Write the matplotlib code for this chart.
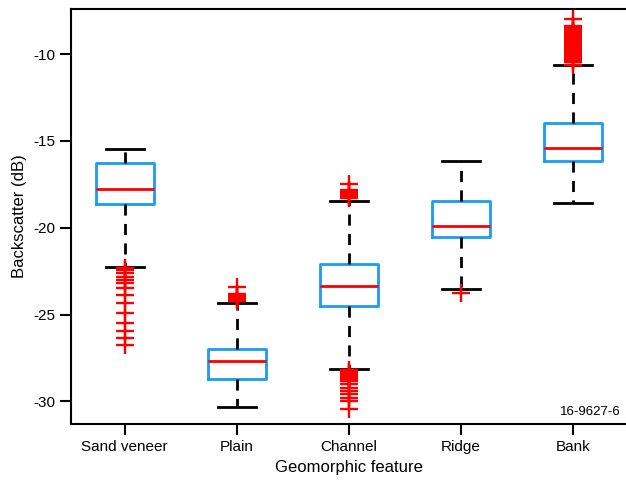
import matplotlib.pyplot as plt

plt.rcParams['font.family'] = ['Liberation Sans', 'DejaVu Sans']

features = ["Sand veneer", "Plain", "Channel", "Ridge", "Bank"]

# five-number summaries (dB)
whislo = [-22.28, -30.33, -28.12, -23.50, -18.57]
q1 = [-18.65, -28.69, -24.52, -20.53, -16.15]
med = [-17.78, -27.68, -23.37, -19.90, -15.40]
q3 = [-16.28, -26.96, -22.10, -18.45, -13.96]
whishi = [-15.48, -24.31, -18.45, -16.15, -10.63]

# outliers
fliers_sand = [-22.3, -22.45, -22.62, -22.84, -23.03, -23.2, -23.49, -23.89,
               -24.35, -24.93, -25.5, -25.97, -26.37, -26.77]
fliers_plain = [-23.4, -23.8, -23.9, -24.0, -24.1, -24.2]
fliers_channel = [-17.45, -17.8, -17.9, -18.0, -18.1, -18.2, -18.3,
                  -28.2, -28.3, -28.4, -28.5, -28.6, -28.7, -28.8,
                  -29.0, -29.2, -29.4, -29.6, -29.8, -30.0, -30.45]
fliers_ridge = [-23.75]
fliers_bank = [-7.95, -8.35, -8.45, -8.55, -8.65, -8.75, -8.85, -8.95, -9.05,
               -9.15, -9.25, -9.35, -9.45, -9.55, -9.65, -9.75, -9.85, -9.95,
               -10.05, -10.15, -10.25, -10.35, -10.45, -10.6]
fliers = [fliers_sand, fliers_plain, fliers_channel, fliers_ridge, fliers_bank]

stats = []
for i, name in enumerate(features):
    stats.append(dict(label=name, whislo=whislo[i], q1=q1[i], med=med[i],
                      q3=q3[i], whishi=whishi[i], fliers=fliers[i]))

fig = plt.figure(figsize=(6.26, 4.9), dpi=100)
ax = fig.add_axes([0.1134, 0.1347, 0.8866, 0.8469])

ax.bxp(stats, positions=range(1, 6), widths=0.52, capwidths=0.34,
       boxprops=dict(color='#1a9cf0', linewidth=2),
       medianprops=dict(color='red', linewidth=2),
       whiskerprops=dict(color='black', linewidth=2, linestyle=(0, (4, 3))),
       capprops=dict(color='black', linewidth=2),
       flierprops=dict(marker='+', markeredgecolor='red', markersize=13,
                       markeredgewidth=1.7, linestyle='none'))

ax.set_xlim(0.52, 5.47)
ax.set_ylim(-31.3, -7.4)
ax.set_yticks([-30, -25, -20, -15, -10])
ax.set_yticklabels(['-30', '-25', '-20', '-15', '-10'])

for s in ['left', 'bottom', 'top']:
    ax.spines[s].set_linewidth(1.5)
ax.spines['right'].set_visible(False)
ax.tick_params(direction='out', length=8, width=1.5, labelsize=11)

ax.set_xlabel("Geomorphic feature", fontsize=12)
ax.set_ylabel("Backscatter (dB)", fontsize=12)
ax.text(0.99, 0.015, "16-9627-6", transform=ax.transAxes,
        ha='right', va='bottom', fontsize=9.5)

fig.savefig("out.png", dpi=100)
